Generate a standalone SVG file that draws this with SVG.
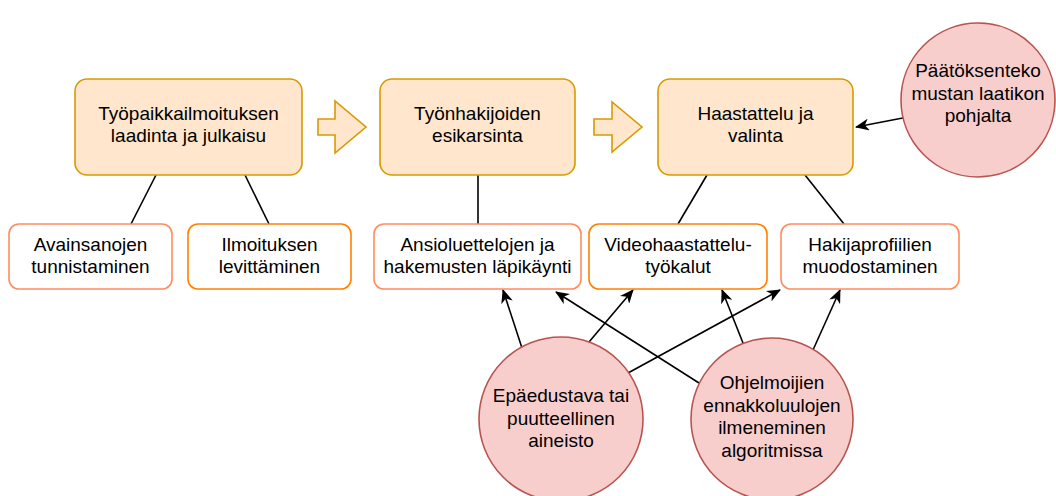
<svg xmlns="http://www.w3.org/2000/svg" width="1056" height="496" viewBox="0 0 1056 496">
<style>
text{font-family:"Liberation Sans",Arial,sans-serif;font-size:19px;fill:#000;text-anchor:middle}
.step{fill:#ffe6cc;stroke:#d79b00;stroke-width:1.6}
.sub1{fill:#fff;stroke:#ff8c5f;stroke-width:1.6}
.sub2{fill:#fff;stroke:#ff8000;stroke-width:1.6}
.risk{fill:#f8cecc;stroke:#b85450;stroke-width:1.6}
.ln{stroke:#000;stroke-width:1.6;fill:none}
.ar{stroke:#000;stroke-width:1.6;fill:none;marker-end:url(#ah)}
</style>
<defs>
<marker id="ah" viewBox="0 0 14 12" refX="13" refY="6" markerWidth="14" markerHeight="12" markerUnits="userSpaceOnUse" orient="auto">
<path d="M0,0 L14,6 L0,12 L4,6 Z" fill="#000"/>
</marker>
</defs>
<g id="connectors">
<line class="ln" x1="156" y1="175" x2="131" y2="224"/>
<line class="ln" x1="245" y1="175" x2="269" y2="224"/>
<line class="ln" x1="478" y1="175" x2="478" y2="224"/>
<line class="ln" x1="707" y1="175" x2="678" y2="224"/>
<line class="ln" x1="805" y1="175" x2="844" y2="224"/>
<line class="ar" x1="908" y1="117" x2="856" y2="127"/>
<line class="ar" x1="522" y1="348" x2="503" y2="290"/>
<line class="ar" x1="589" y1="342" x2="633" y2="290"/>
<line class="ar" x1="628" y1="373" x2="780" y2="290"/>
<line class="ar" x1="699" y1="383" x2="556" y2="292"/>
<line class="ar" x1="743" y1="343" x2="722" y2="290"/>
<line class="ar" x1="813" y1="350" x2="840" y2="290"/>
</g>
<g id="flow-arrow-1"><path class="step" d="M318,119 L335,119 L335,101 L366,127 L335,153 L335,135 L318,135 Z"/></g>
<g id="flow-arrow-2"><path class="step" d="M594,119 L612,119 L612,102 L642,127 L612,152 L612,135 L594,135 Z"/></g>
<g id="step1"><rect class="step" x="75" y="79" width="227" height="96" rx="12"/><text x="188.5" y="120">Työpaikkailmoituksen</text><text x="188.5" y="142">laadinta ja julkaisu</text></g>
<g id="step2"><rect class="step" x="380" y="79" width="195" height="96" rx="12"/><text x="477.5" y="120">Työnhakijoiden</text><text x="477.5" y="142">esikarsinta</text></g>
<g id="step3"><rect class="step" x="658" y="79" width="195" height="96" rx="12"/><text x="755.5" y="120">Haastattelu ja</text><text x="755.5" y="142">valinta</text></g>
<g id="sub-avainsanat"><rect class="sub1" x="9" y="224" width="163" height="65" rx="10"/><text x="90.5" y="251">Avainsanojen</text><text x="90.5" y="273">tunnistaminen</text></g>
<g id="sub-ilmoitus"><rect class="sub2" x="188" y="224" width="163" height="65" rx="10"/><text x="269.5" y="251">Ilmoituksen</text><text x="269.5" y="273">levittäminen</text></g>
<g id="sub-ansio"><rect class="sub1" x="374" y="224" width="207" height="65" rx="10"/><text x="477.5" y="251">Ansioluettelojen ja</text><text x="477.5" y="273">hakemusten läpikäynti</text></g>
<g id="sub-video"><rect class="sub2" x="589" y="224" width="178" height="65" rx="10"/><text x="678" y="251">Videohaastattelu-</text><text x="678" y="273">työkalut</text></g>
<g id="sub-hakija"><rect class="sub1" x="781" y="224" width="178" height="65" rx="10"/><text x="870" y="251">Hakijaprofiilien</text><text x="870" y="273">muodostaminen</text></g>
<g id="risk-blackbox"><circle class="risk" cx="978" cy="100" r="77"/><text x="978" y="77">Päätöksenteko</text><text x="978" y="100">mustan laatikon</text><text x="978" y="122">pohjalta</text></g>
<g id="risk-data"><circle class="risk" cx="561" cy="419" r="82"/><text x="561" y="402">Epäedustava tai</text><text x="561" y="425">puutteellinen</text><text x="561" y="447">aineisto</text></g>
<g id="risk-bias"><circle class="risk" cx="772" cy="419" r="81"/><text x="772" y="389">Ohjelmoijien</text><text x="772" y="412">ennakkoluulojen</text><text x="772" y="434">ilmeneminen</text><text x="772" y="457">algoritmissa</text></g>
</svg>
